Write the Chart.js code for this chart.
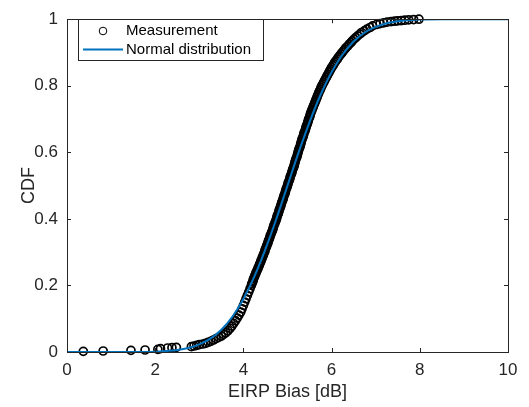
<!DOCTYPE html>
<html>
<head>
<meta charset="utf-8">
<title>EIRP Bias CDF</title>
<script src="https://cdn.jsdelivr.net/npm/chart.js@4"></script>
<style>
  html, body { margin: 0; padding: 0; background: #fff; }
  canvas { display: block; }
</style>
</head>
<body>
<canvas id="cdfChart" width="529" height="407"></canvas>
<script>
// measured EIRP bias samples (dB) and their empirical CDF level
const measX = [
  0.37, 0.82, 1.45, 1.77, 2.06, 2.12, 2.28, 2.38, 2.48, 2.82,
  2.88, 2.94, 3.00, 3.08, 3.14, 3.20, 3.26, 3.32, 3.38, 3.44,
  3.50, 3.55, 3.60, 3.65, 3.70, 3.74, 3.78, 3.82, 3.86, 3.90,
  3.94, 3.97, 4.00, 4.03, 4.06, 4.09, 4.12, 4.15, 4.18,
  4.19, 4.21, 4.22, 4.23, 4.25, 4.26, 4.28, 4.29, 4.31, 4.33,
  4.34, 4.36, 4.37, 4.39, 4.40, 4.42, 4.43, 4.45, 4.46, 4.48,
  4.49, 4.50, 4.52, 4.53, 4.55, 4.56, 4.57, 4.59, 4.60, 4.61,
  4.63, 4.64, 4.66, 4.67, 4.68, 4.69, 4.71, 4.72, 4.74, 4.75,
  4.76, 4.77, 4.79, 4.80, 4.81, 4.82, 4.84, 4.85, 4.86, 4.87,
  4.89, 4.90, 4.91, 4.92, 4.94, 4.95, 4.96, 4.97, 4.99, 5.00,
  5.01, 5.02, 5.04, 5.05, 5.06, 5.07, 5.09, 5.10, 5.11, 5.12,
  5.14, 5.15, 5.16, 5.17, 5.18, 5.19, 5.21, 5.22, 5.23, 5.24,
  5.25, 5.26, 5.28, 5.29, 5.30, 5.31, 5.32, 5.33, 5.35, 5.36,
  5.37, 5.38, 5.40, 5.41, 5.42, 5.43, 5.45, 5.46, 5.47, 5.48,
  5.50, 5.51, 5.52, 5.53, 5.55, 5.56, 5.58, 5.59, 5.61, 5.62,
  5.64, 5.65, 5.67, 5.68, 5.70, 5.71, 5.73, 5.75, 5.76, 5.78,
  5.80, 5.82, 5.84, 5.86, 5.88, 5.90, 5.92, 5.94, 5.96, 5.98,
  6.00, 6.03, 6.05, 6.07, 6.10, 6.13, 6.15, 6.18, 6.21, 6.24,
  6.27, 6.30, 6.33, 6.37, 6.40, 6.44, 6.47, 6.51, 6.55, 6.59,
  6.64, 6.68, 6.74, 6.80, 6.87, 6.93, 7.02, 7.10, 7.18, 7.26,
  7.35, 7.43, 7.50, 7.58, 7.66, 7.75, 7.86, 7.98
];
const measY = [
  0.002, 0.003, 0.005, 0.006, 0.008, 0.010, 0.012, 0.013, 0.014, 0.016,
  0.018, 0.020, 0.022, 0.024, 0.026, 0.029, 0.032, 0.036, 0.040, 0.044,
  0.048, 0.053, 0.058, 0.064, 0.071, 0.078, 0.086, 0.094, 0.102, 0.111,
  0.120, 0.130, 0.140, 0.150, 0.160, 0.170, 0.180, 0.190, 0.200,
  0.205, 0.210, 0.215, 0.220, 0.225, 0.230, 0.235, 0.240, 0.245, 0.250,
  0.255, 0.260, 0.265, 0.270, 0.275, 0.280, 0.285, 0.290, 0.295, 0.300,
  0.305, 0.310, 0.315, 0.320, 0.325, 0.330, 0.335, 0.340, 0.345, 0.350,
  0.355, 0.360, 0.365, 0.370, 0.375, 0.380, 0.385, 0.390, 0.395, 0.400,
  0.405, 0.410, 0.415, 0.420, 0.425, 0.430, 0.435, 0.440, 0.445, 0.450,
  0.455, 0.460, 0.465, 0.470, 0.475, 0.480, 0.485, 0.490, 0.495, 0.500,
  0.505, 0.510, 0.515, 0.520, 0.525, 0.530, 0.535, 0.540, 0.545, 0.550,
  0.555, 0.560, 0.565, 0.570, 0.575, 0.580, 0.585, 0.590, 0.595, 0.600,
  0.605, 0.610, 0.615, 0.620, 0.625, 0.630, 0.635, 0.640, 0.645, 0.650,
  0.655, 0.660, 0.665, 0.670, 0.675, 0.680, 0.685, 0.690, 0.695, 0.700,
  0.705, 0.710, 0.715, 0.720, 0.725, 0.730, 0.735, 0.740, 0.745, 0.750,
  0.755, 0.760, 0.765, 0.770, 0.775, 0.780, 0.785, 0.790, 0.795, 0.800,
  0.805, 0.810, 0.815, 0.820, 0.825, 0.830, 0.835, 0.840, 0.845, 0.850,
  0.855, 0.860, 0.865, 0.870, 0.875, 0.880, 0.885, 0.890, 0.895, 0.900,
  0.905, 0.910, 0.915, 0.920, 0.925, 0.930, 0.935, 0.940, 0.945, 0.950,
  0.955, 0.960, 0.965, 0.970, 0.975, 0.980, 0.984, 0.987, 0.989, 0.991,
  0.993, 0.994, 0.995, 0.996, 0.997, 0.998, 0.999, 1.000
];

// fitted normal CDF
const normX = [0, 0.5, 1, 1.5, 2, 2.25, 2.5, 2.75, 3, 3.25, 3.5, 3.75, 4, 4.25, 4.5, 4.75,
  5, 5.25, 5.5, 5.75, 6, 6.25, 6.5, 6.75, 7, 7.25, 7.5, 7.75, 8, 8.5, 9, 9.5, 10];
const normY = [0, 0, 0, 0, 0.001, 0.003, 0.006, 0.012, 0.023, 0.040, 0.067, 0.106, 0.159, 0.227, 0.309, 0.401,
  0.500, 0.599, 0.691, 0.773, 0.841, 0.894, 0.933, 0.960, 0.977, 0.988, 0.994, 0.997, 0.999, 1, 1, 1, 1];

const xTicks = [0, 2, 4, 6, 8, 10];
const yTicks = [0, 0.2, 0.4, 0.6, 0.8, 1];

const AXIS_COLOR = '#262626';
const LINE_COLOR = '#0072BD';
const FONT = 'Arial, "Liberation Sans", sans-serif';

// MATLAB-style box with inward ticks
const axesBox = {
  id: 'axesBox',
  afterDatasetsDraw(chart) {
    const { ctx, chartArea: a, scales } = chart;
    const len = 4;
    ctx.save();
    ctx.strokeStyle = AXIS_COLOR;
    ctx.lineWidth = 1;
    ctx.beginPath();
    xTicks.forEach(v => {
      const px = Math.round(scales.x.getPixelForValue(v)) + 0.5;
      ctx.moveTo(px, a.bottom); ctx.lineTo(px, a.bottom - len);
      ctx.moveTo(px, a.top); ctx.lineTo(px, a.top + len);
    });
    yTicks.forEach(v => {
      const py = Math.round(scales.y.getPixelForValue(v)) + 0.5;
      ctx.moveTo(a.left, py); ctx.lineTo(a.left + len, py);
      ctx.moveTo(a.right, py); ctx.lineTo(a.right - len, py);
    });
    ctx.stroke();
    ctx.strokeRect(Math.round(a.left) + 0.5, Math.round(a.top) + 0.5,
      Math.round(a.right - a.left), Math.round(a.bottom - a.top));
    ctx.restore();
  }
};

// legend box in the upper left corner
const boxLegend = {
  id: 'boxLegend',
  afterDraw(chart) {
    const { ctx } = chart;
    const ds = chart.data.datasets;
    const bx = 78.5, by = 19.5, bw = 185, bh = 41;
    ctx.save();
    ctx.fillStyle = '#fff';
    ctx.fillRect(bx, by, bw, bh);
    ctx.strokeStyle = AXIS_COLOR;
    ctx.lineWidth = 1;
    ctx.strokeRect(bx, by, bw, bh);

    // Measurement marker
    ctx.beginPath();
    ctx.arc(103, 31, 3.8, 0, Math.PI * 2);
    ctx.strokeStyle = '#000';
    ctx.stroke();
    // Normal distribution line
    ctx.beginPath();
    ctx.moveTo(83, 49.5);
    ctx.lineTo(123, 49.5);
    ctx.strokeStyle = LINE_COLOR;
    ctx.lineWidth = 2;
    ctx.stroke();

    ctx.fillStyle = '#000';
    ctx.font = '15px ' + FONT;
    ctx.textBaseline = 'middle';
    ctx.fillText(ds[1].label, 126, 31);
    ctx.fillText(ds[0].label, 126, 50);
    ctx.restore();
  }
};

const fmtTick = v => String(Math.round(v * 10) / 10);

const ctx = document.getElementById('cdfChart').getContext('2d');
new Chart(ctx, {
  type: 'scatter',
  data: {
    datasets: [
      {
        label: 'Normal distribution',
        data: normX.map((x, i) => ({ x, y: normY[i] })),
        showLine: true,
        borderColor: LINE_COLOR,
        borderWidth: 2,
        pointRadius: 0,
        cubicInterpolationMode: 'monotone',
        order: 0
      },
      {
        label: 'Measurement',
        data: measX.map((x, i) => ({ x, y: measY[i] })),
        showLine: false,
        pointStyle: 'circle',
        pointRadius: 4,
        borderWidth: 1.7,
        borderColor: '#000',
        backgroundColor: 'rgba(0,0,0,0)',
        clip: 6,
        order: 1
      }
    ]
  },
  options: {
    responsive: false,
    animation: false,
    devicePixelRatio: 1,
    layout: { padding: { top: 9, right: 21, left: 18, bottom: 0 } },
    plugins: {
      legend: { display: false },
      tooltip: { enabled: false }
    },
    scales: {
      x: {
        type: 'linear',
        min: 0,
        max: 10,
        grid: { display: false, drawTicks: false },
        border: { display: false },
        afterFit: s => { s.height = 55; },
        afterBuildTicks: s => { s.ticks = xTicks.map(v => ({ value: v })); },
        ticks: { color: AXIS_COLOR, font: { family: FONT, size: 17 }, padding: 8, maxRotation: 0, callback: fmtTick },
        title: { display: true, text: 'EIRP Bias [dB]', color: AXIS_COLOR, font: { family: FONT, size: 18 }, padding: { top: 0 } }
      },
      y: {
        type: 'linear',
        min: 0,
        max: 1,
        grid: { display: false, drawTicks: false },
        border: { display: false },
        afterFit: s => { s.width = 49; },
        afterBuildTicks: s => { s.ticks = yTicks.map(v => ({ value: v })); },
        ticks: { color: AXIS_COLOR, font: { family: FONT, size: 17 }, padding: 9, callback: fmtTick },
        title: { display: true, text: 'CDF', color: AXIS_COLOR, font: { family: FONT, size: 18 }, padding: { top: 0, bottom: 0 } }
      }
    }
  },
  plugins: [axesBox, boxLegend]
});
</script>
</body>
</html>
